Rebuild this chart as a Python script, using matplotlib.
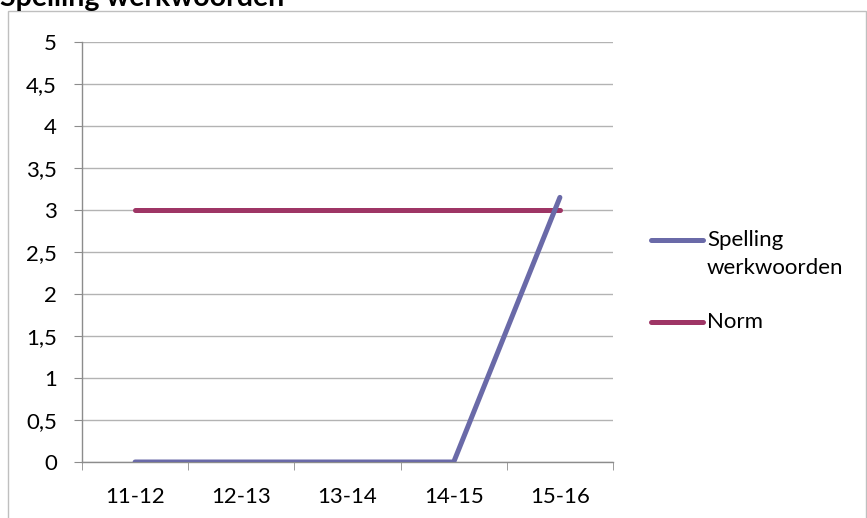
import matplotlib.pyplot as plt
from matplotlib.lines import Line2D
from matplotlib.patches import Rectangle

# Data
years = ['11-12', '12-13', '13-14', '14-15', '15-16']
spelling = [0, 0, 0, 0, 3.15]
norm = [3, 3, 3, 3, 3]
yticks = [0, 0.5, 1, 1.5, 2, 2.5, 3, 3.5, 4, 4.5, 5]

plt.rcParams['font.family'] = ['Lato', 'DejaVu Sans']

W, H = 867, 518
fig = plt.figure(figsize=(W / 100, H / 100), dpi=100)
ax = fig.add_axes([82 / W, 1 - 462 / H, (613 - 82) / W, (462 - 42) / H])

blue = '#6A6AA8'
red = '#9E3565'

x = list(range(len(years)))
ax.plot(x, norm, color=red, lw=3.6, solid_capstyle='round', zorder=3)
ax.plot(x, spelling, color=blue, lw=3.6, solid_capstyle='round', zorder=4)

ax.set_xlim(-0.5, len(years) - 0.5)
ax.set_ylim(0, 5)
ax.set_yticks(yticks)
ax.set_yticklabels([('%g' % v).replace('.', ',') for v in yticks])
ax.set_xticks(x)
ax.set_xticklabels(years)
ax.set_xticks([i - 0.5 for i in range(len(years) + 1)], minor=True)

ax.grid(axis='y', color='#B3B3B3', lw=1)
ax.set_axisbelow(True)
for s in ['top', 'right']:
    ax.spines[s].set_visible(False)
for s in ['left', 'bottom']:
    ax.spines[s].set_color('#8C8C8C')
    ax.spines[s].set_linewidth(1)

ax.tick_params(axis='y', length=6, color='#8C8C8C', pad=12, labelsize=16)
ax.tick_params(axis='x', which='major', length=0, pad=18, labelsize=16)
ax.tick_params(axis='x', which='minor', length=6, color='#8C8C8C')

# chart frame
fig.add_artist(Rectangle((8 / W, -0.1), (866 - 8) / W, 1.1 - 11.5 / H,
                         transform=fig.transFigure, fill=False,
                         edgecolor='#BFBFBF', lw=1))

# title (cut off at the top, as in the original)
fig.text(0, 1 - 6 / H, 'Spelling werkwoorden', fontsize=20.5, fontweight='bold',
         va='baseline', ha='left')

# legend
for yy, col in [(240, blue), (322, red)]:
    fig.add_artist(Line2D([651 / W, 703 / W], [1 - yy / H, 1 - yy / H],
                          color=col, lw=3.6, solid_capstyle='round',
                          transform=fig.transFigure))
fig.text(707 / W, 1 - 240 / H, 'Spelling', fontsize=16, va='center')
fig.text(707 / W, 1 - 268 / H, 'werkwoorden', fontsize=16, va='center')
fig.text(707 / W, 1 - 322 / H, 'Norm', fontsize=16, va='center')

fig.savefig('out.png', dpi=100)
